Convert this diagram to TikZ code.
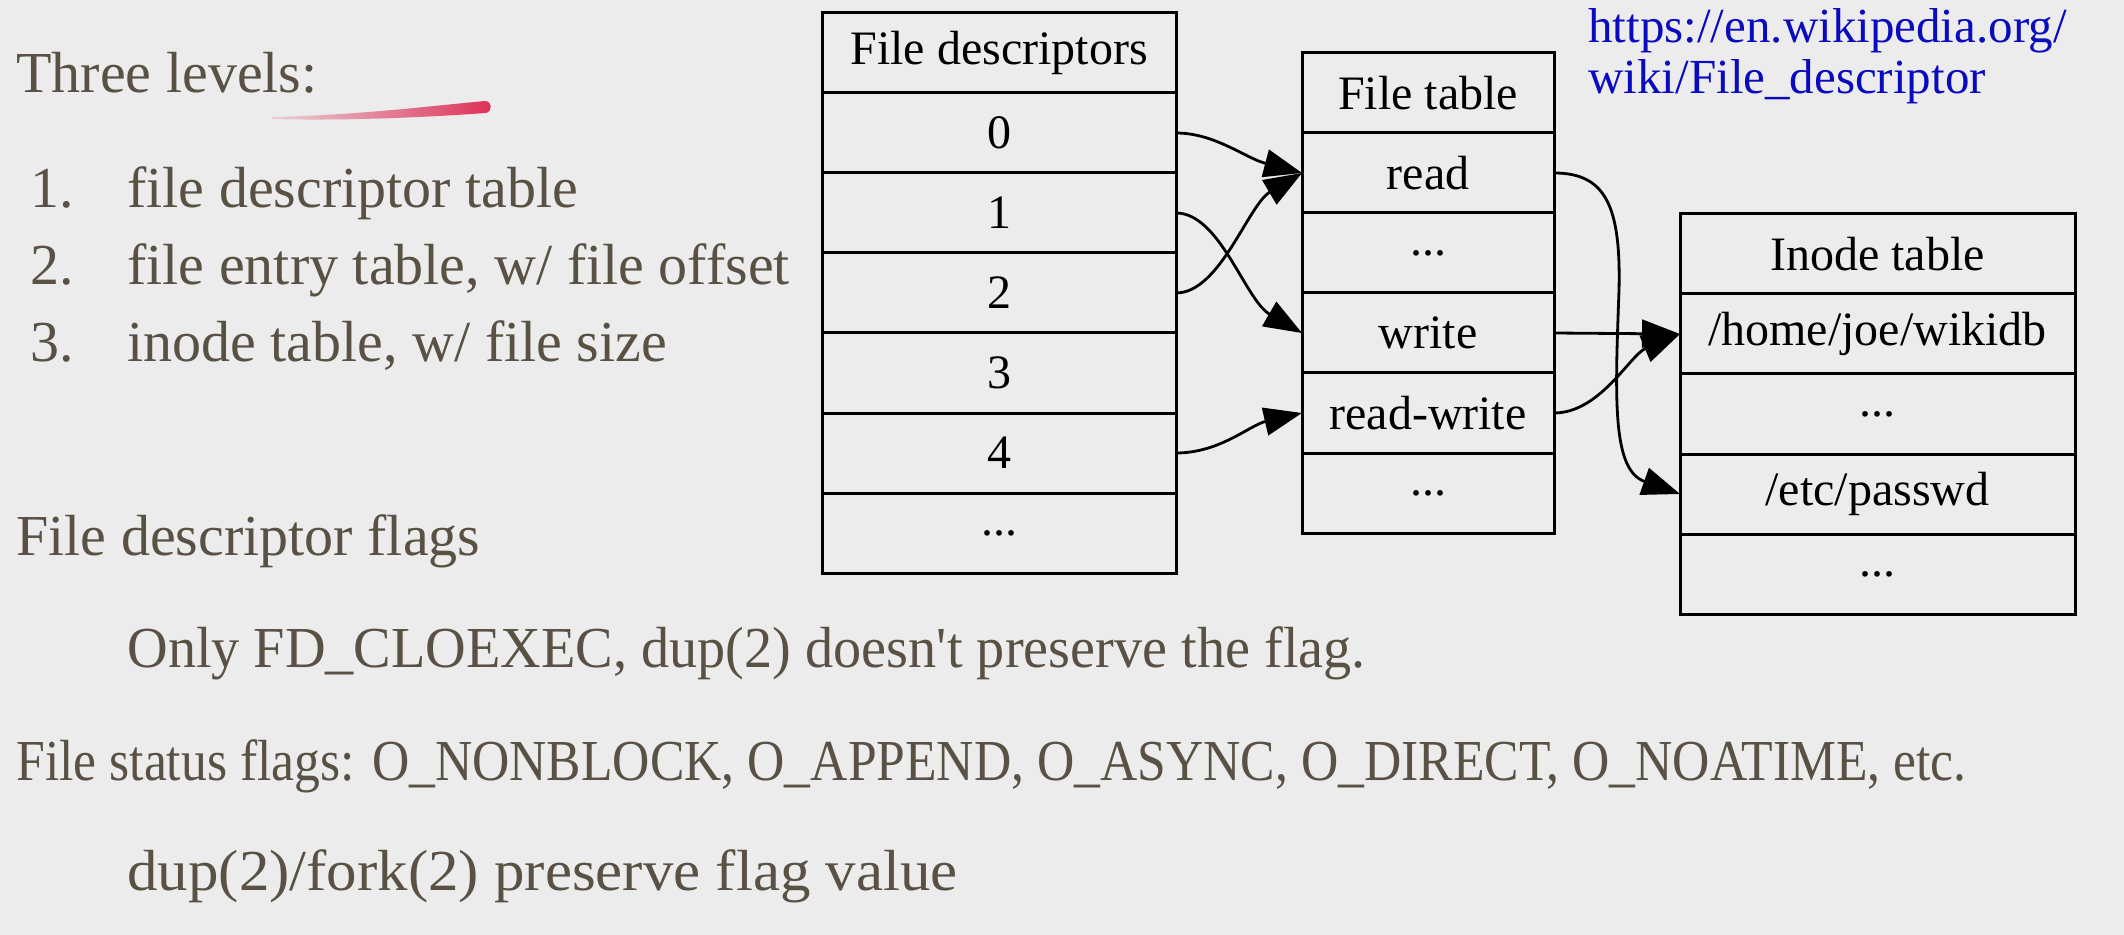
\documentclass[tikz,border=0pt]{standalone}
\usepackage{fontspec}
\setmainfont{Liberation Serif}
\newfontfamily\condensedserif[FakeStretch=0.89]{Liberation Serif}
\newfontfamily\tightserif[FakeStretch=0.97]{Liberation Serif}
\newfontfamily\wideserif[FakeStretch=1.05]{Liberation Serif}
\usepackage{tikz}
\usetikzlibrary{arrows.meta}
\tikzset{>={Triangle[length=19pt,width=14pt]}}
\definecolor{slidegray}{RGB}{236,236,236}
\definecolor{slidetext}{RGB}{89,82,68}
\definecolor{urlblue}{RGB}{10,10,190}
\definecolor{inkred}{RGB}{222,48,86}

\begin{document}
\begin{tikzpicture}[x=0.5pt,y=-0.5pt,
    cell/.style={draw,line width=1.5pt,inner sep=0pt,outer sep=0pt,minimum height=40pt,font=\fontsize{24}{28}\selectfont},
    fdcell/.style={cell,minimum width=177pt},
    ftcell/.style={cell,minimum width=126pt},
    incell/.style={cell,minimum width=197.5pt},
    slide/.style={anchor=base west,inner sep=0pt,text=slidetext,font=\fontsize{29}{34}\selectfont},
    link/.style={anchor=base west,inner sep=0pt,text=urlblue,font=\fontsize{24.5}{29}\selectfont},
    ptr/.style={->,line width=1.4pt}]
                        \useasboundingbox (0,0) rectangle (2124,935);
                        \fill[slidegray] (0,0) rectangle (2124,935);

                        % slide text
                        \node[slide] (title) at (16,93) {Three levels:};
                        \node[slide] (n1) at (30,208) {1.};
                        \node[slide] (item1) at (127,208) {file descriptor table};
                        \node[slide] (n2) at (30,285) {2.};
                        \node[slide] (item2) at (127,285) {file entry table, w/ file offset};
                        \node[slide] (n3) at (30,362) {3.};
                        \node[slide] (item3) at (127,362) {inode table, w/ file size};
                        \node[slide] (fdflags) at (16,555) {File descriptor flags};
                        \node[slide,font=\tightserif\fontsize{29}{34}\selectfont] (cloexec) at (127,667) {Only FD\_CLOEXEC, dup(2) doesn\textquotesingle t preserve the flag.};
                        \node[slide,font=\condensedserif\fontsize{29}{34}\selectfont] (stflags) at (16,780) {File status flags: O\_NONBLOCK, O\_APPEND, O\_ASYNC, O\_DIRECT, O\_NOATIME, etc.};
                        \node[slide,font=\wideserif\fontsize{29}{34}\selectfont] (keepflags) at (127,890) {dup(2)/fork(2) preserve flag value};
                        \node[link] (url1) at (1588,43) {https://en.wikipedia.org/};
                        \node[link] (url2) at (1588,94) {wiki/File\_descriptor};

                        % pen stroke under the title
                        \shade[left color=inkred!15!slidegray,right color=inkred] (272,117) .. controls (360,115) and (430,106) .. (485,101) .. controls (492,101) and (493,111) .. (486,113) .. controls (430,117) and (350,121) .. (272,119) -- cycle;

                        % file descriptors
                        \node[fdcell] (fdh) at (999,53) {File descriptors};
                        \node[fdcell] (fd0) at (999,133) {0};
                        \node[fdcell] (fd1) at (999,213) {1};
                        \node[fdcell] (fd2) at (999,293) {2};
                        \node[fdcell] (fd3) at (999,373) {3};
                        \node[fdcell] (fd4) at (999,453) {4};
                        \node[fdcell] (fd5) at (999,533) {...};

                        % file table
                        \node[ftcell] (fth) at (1428,93) {File table};
                        \node[ftcell] (rd) at (1428,173) {read};
                        \node[ftcell] (ftdots1) at (1428,253) {...};
                        \node[ftcell] (wr) at (1428,333) {write};
                        \node[ftcell] (rw) at (1428,413) {read-write};
                        \node[ftcell] (ftdots2) at (1428,493) {...};

                        % inode table
                        \node[incell] (inh) at (1877.5,254) {Inode table};
                        \node[incell] (wiki) at (1877.5,334) {/home/joe/wikidb};
                        \node[incell] (indots1) at (1877.5,414) {...};
                        \node[incell] (passwd) at (1877.5,494) {/etc/passwd};
                        \node[incell] (indots2) at (1877.5,574) {...};

                        % 0 to read
                        \draw[ptr] (fd0.east) .. controls (1215,133) and (1245,158) .. (rd.west);
                        % 2 to read
                        \draw[ptr] (fd2.east) .. controls (1220,293) and (1248,205) .. (rd.west);
                        % 1 to write
                        \draw[ptr] (fd1.east) .. controls (1220,213) and (1245,300) .. (wr.west);
                        % 4 to read-write
                        \draw[ptr] (fd4.east) .. controls (1220,453) and (1250,425) .. (rw.west);
                        % read to /etc/passwd
                        \draw[ptr] (rd.east) .. controls (1605,173) and (1621,205) .. (1619,290) .. controls (1615,400) and (1612,470) .. (passwd.west);
                        % write to /home/joe/wikidb
                        \draw[ptr] (wr.east) -- (wiki.west);
                        % read-write to /home/joe/wikidb
                        \draw[ptr] (rw.east) .. controls (1600,413) and (1630,355) .. (wiki.west);
                    \end{tikzpicture}
\end{document}
